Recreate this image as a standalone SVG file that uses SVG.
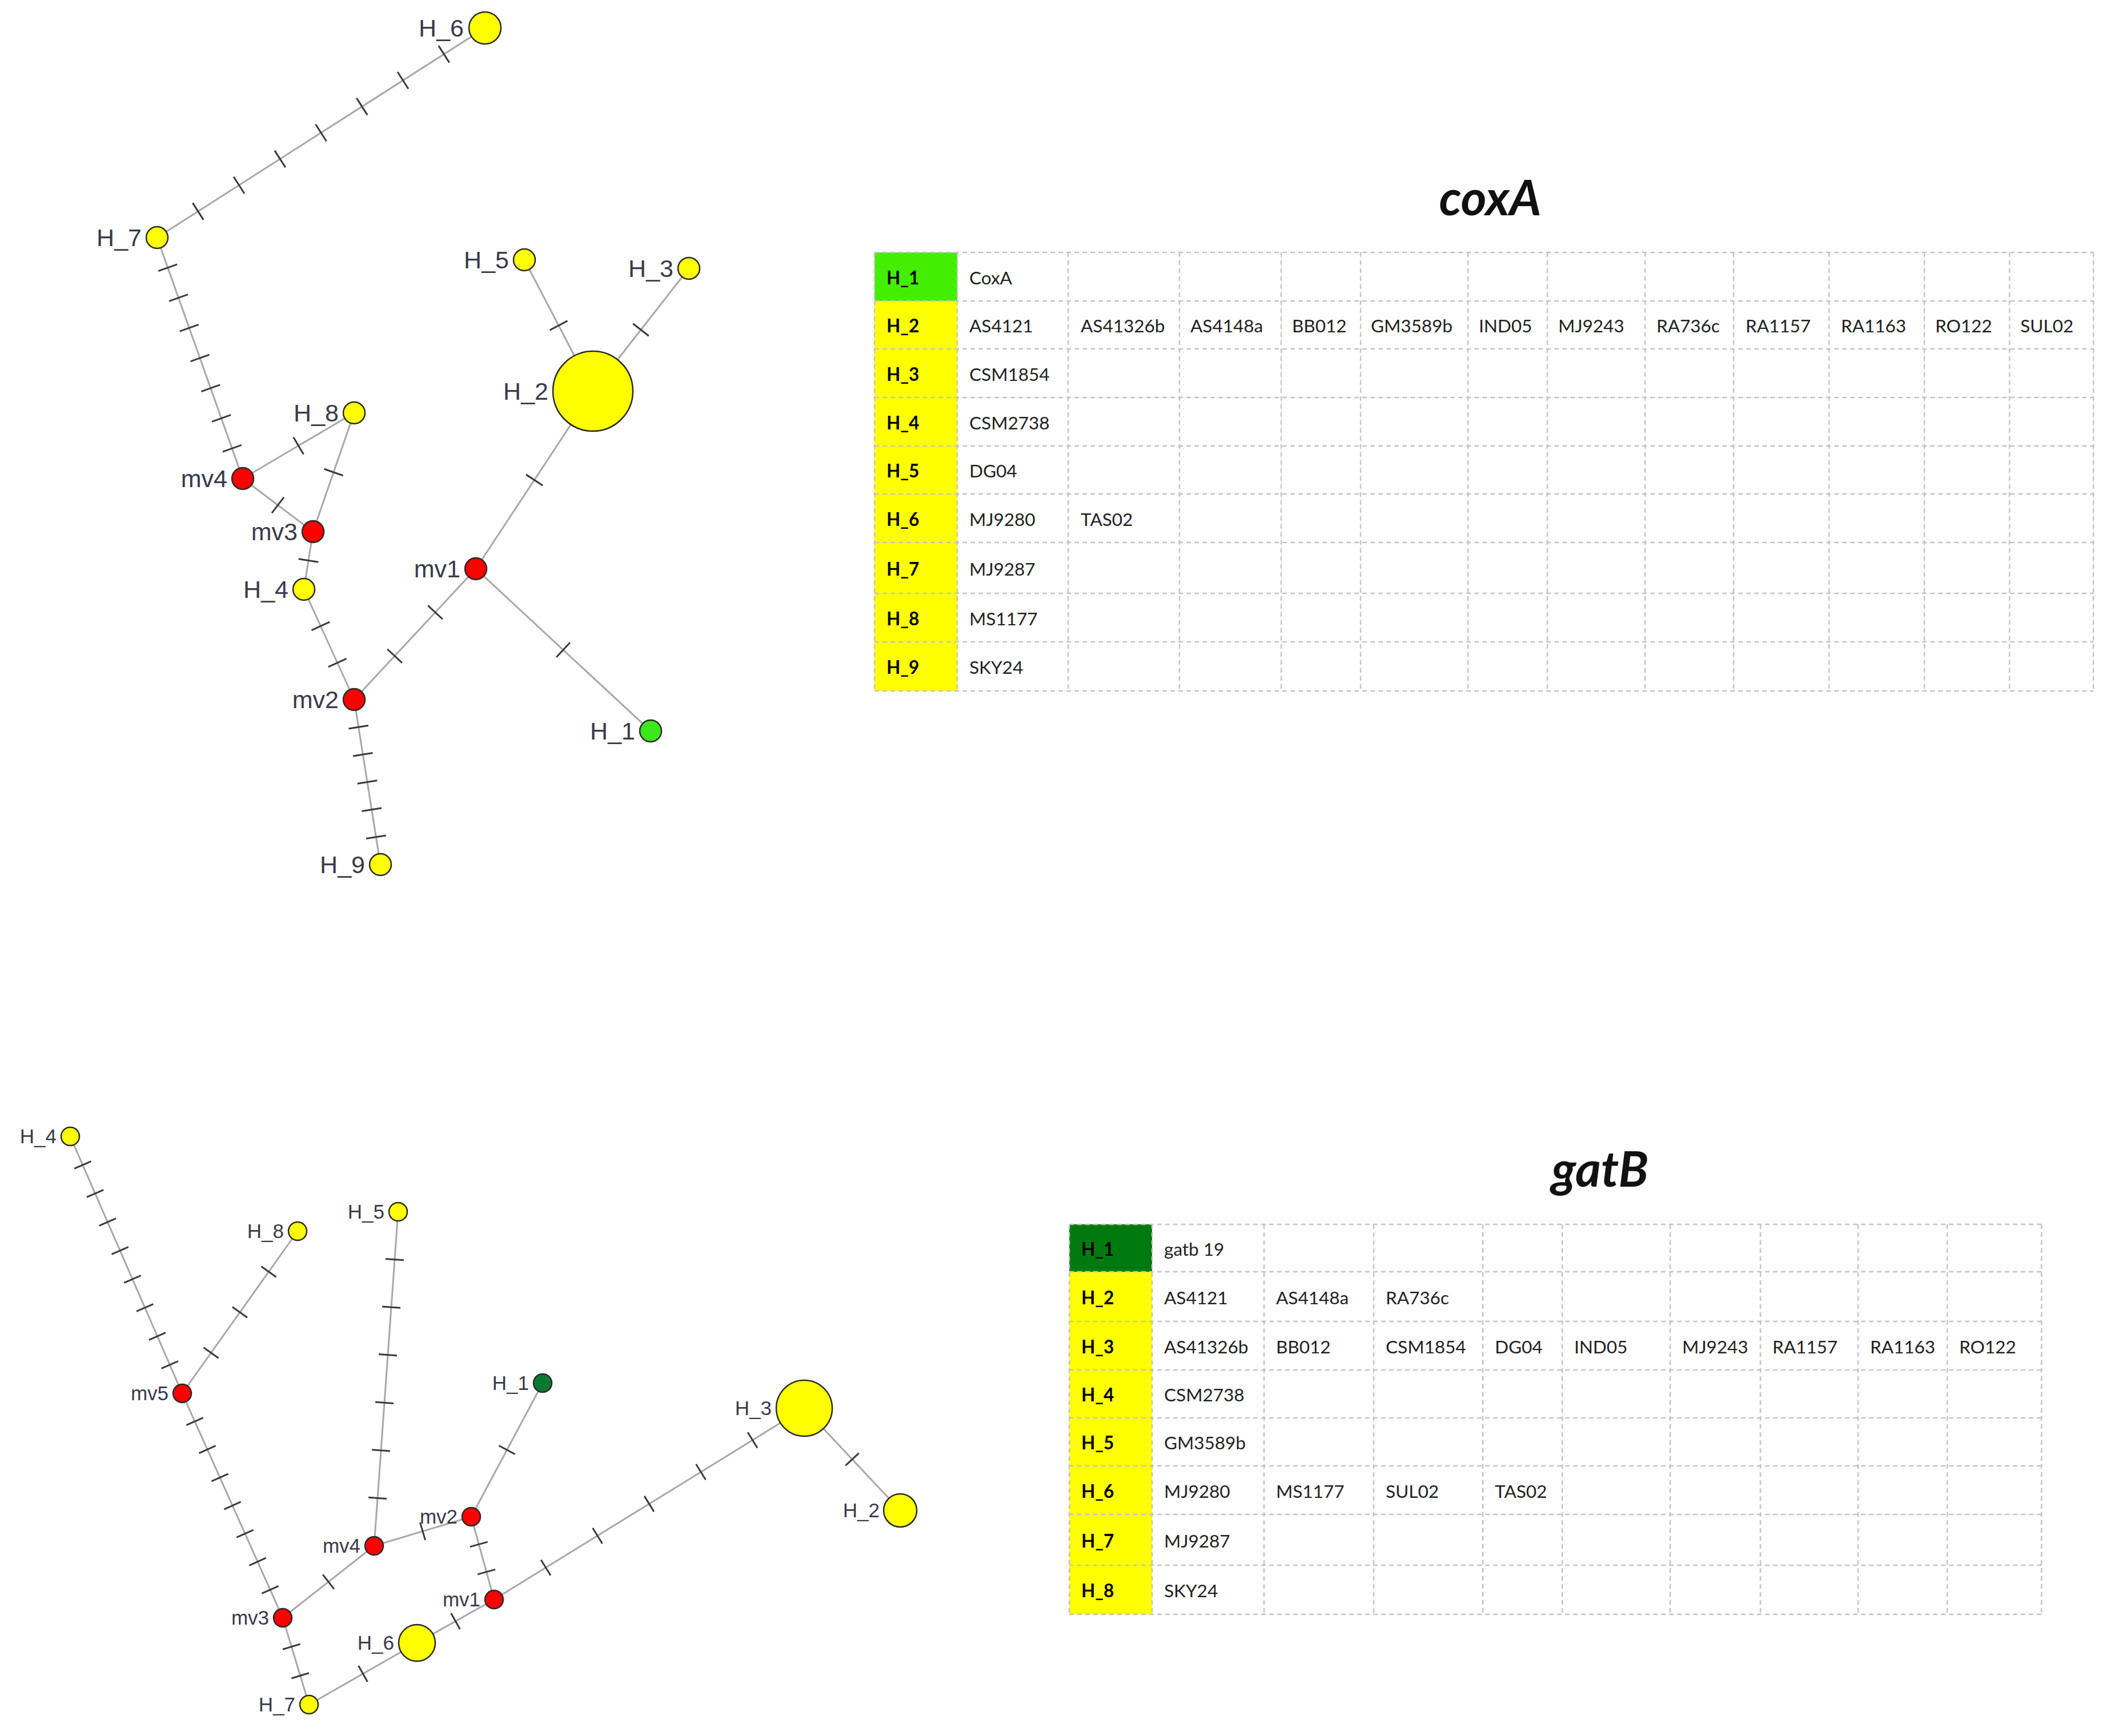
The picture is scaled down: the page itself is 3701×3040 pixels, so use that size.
<svg xmlns="http://www.w3.org/2000/svg" width="3701" height="3040" viewBox="0 0 3701 3040">
<style>
.edge{stroke:#a8a8a8;stroke-width:3;fill:none}
.tk{stroke:#3a3a3a;fill:none}
.tk1{stroke-width:35}
.tk2{stroke-width:32}
.nd{stroke:#2a2a2a;stroke-width:2.5}
.y{fill:#ffff00}.r{fill:#ff0000}.g{fill:#3be81c}.dg{fill:#0b7a30}
.lbl{font-family:"Liberation Sans",Arial,sans-serif;fill:#3a3a4a;text-anchor:end}
.la{font-size:43px}.lb{font-size:35px}
.ttl{font-family:Lato,"Open Sans",sans-serif;font-weight:bold;font-style:italic;font-size:86px;fill:#111;text-anchor:middle}
.ct{font-family:Lato,"Open Sans",sans-serif;font-size:31.5px;fill:#222}
.ch{font-family:Lato,"Open Sans",sans-serif;font-size:31.5px;font-weight:bold;fill:#000}
.grid{stroke:#c4c4c4;stroke-width:2.5;stroke-dasharray:8 6;fill:none}
</style>
<rect width="3701" height="3040" fill="#ffffff"/>

<!-- coxA network connectors -->
<g id="connectors-coxA">
<path class="edge" d="M849 49 L275 416"/>
<path class="edge" d="M275 416 L425 838"/>
<path class="edge" d="M425 838 L620 723"/>
<path class="edge" d="M425 838 L548 931"/>
<path class="edge" d="M620 723 L548 931"/>
<path class="edge" d="M548 931 L532 1032"/>
<path class="edge" d="M532 1032 L620 1225"/>
<path class="edge" d="M620 1225 L833 996"/>
<path class="edge" d="M833 996 L1038 685"/>
<path class="edge" d="M833 996 L1139 1280"/>
<path class="edge" d="M620 1225 L666 1514"/>
<path class="edge" d="M1038 685 L918 455"/>
<path class="edge" d="M1038 685 L1206 470"/>
<path class="tk tk1" d="M849 49 L275 416" pathLength="800" stroke-dasharray="3.52 96.48" stroke-dashoffset="1.76"/>
<path class="tk tk1" d="M275 416 L425 838" pathLength="800" stroke-dasharray="5.36 94.64" stroke-dashoffset="2.68"/>
<path class="tk tk1" d="M425 838 L620 723" pathLength="200" stroke-dasharray="2.65 97.35" stroke-dashoffset="1.33"/>
<path class="tk tk1" d="M425 838 L548 931" pathLength="200" stroke-dasharray="3.9 96.1" stroke-dashoffset="1.95"/>
<path class="tk tk1" d="M620 723 L548 931" pathLength="200" stroke-dasharray="2.73 97.27" stroke-dashoffset="1.37"/>
<path class="tk tk1" d="M548 931 L532 1032" pathLength="200" stroke-dasharray="5.88 94.12" stroke-dashoffset="2.94"/>
<path class="tk tk1" d="M532 1032 L620 1225" pathLength="300" stroke-dasharray="4.25 95.75" stroke-dashoffset="2.13"/>
<path class="tk tk1" d="M620 1225 L833 996" pathLength="300" stroke-dasharray="2.88 97.12" stroke-dashoffset="1.44"/>
<path class="tk tk1" d="M833 996 L1038 685" pathLength="200" stroke-dasharray="1.61 98.39" stroke-dashoffset="0.81"/>
<path class="tk tk1" d="M833 996 L1139 1280" pathLength="200" stroke-dasharray="1.44 98.56" stroke-dashoffset="0.72"/>
<path class="tk tk1" d="M620 1225 L666 1514" pathLength="600" stroke-dasharray="6.14 93.86" stroke-dashoffset="3.07"/>
<path class="tk tk1" d="M1038 685 L918 455" pathLength="200" stroke-dasharray="2.32 97.68" stroke-dashoffset="1.16"/>
<path class="tk tk1" d="M1038 685 L1206 470" pathLength="200" stroke-dasharray="2.2 97.8" stroke-dashoffset="1.1"/>
</g>

<!-- coxA nodes -->
<g id="coxA-H_6"><circle class="nd y" cx="849" cy="49" r="28"/><text class="lbl la" x="812" y="64">H_6</text></g>
<g id="coxA-H_7"><circle class="nd y" cx="275" cy="416" r="19"/><text class="lbl la" x="248" y="431">H_7</text></g>
<g id="coxA-H_5"><circle class="nd y" cx="918" cy="455" r="19"/><text class="lbl la" x="891" y="470">H_5</text></g>
<g id="coxA-H_3"><circle class="nd y" cx="1206" cy="470" r="19"/><text class="lbl la" x="1179" y="485">H_3</text></g>
<g id="coxA-H_2"><circle class="nd y" cx="1038" cy="685" r="70"/><text class="lbl la" x="960" y="700">H_2</text></g>
<g id="coxA-H_8"><circle class="nd y" cx="620" cy="723" r="19"/><text class="lbl la" x="593" y="738">H_8</text></g>
<g id="coxA-mv4"><circle class="nd r" cx="425" cy="838" r="19"/><text class="lbl la" x="398" y="853">mv4</text></g>
<g id="coxA-mv3"><circle class="nd r" cx="548" cy="931" r="19"/><text class="lbl la" x="521" y="946">mv3</text></g>
<g id="coxA-H_4"><circle class="nd y" cx="532" cy="1032" r="19"/><text class="lbl la" x="505" y="1047">H_4</text></g>
<g id="coxA-mv1"><circle class="nd r" cx="833" cy="996" r="19"/><text class="lbl la" x="806" y="1011">mv1</text></g>
<g id="coxA-mv2"><circle class="nd r" cx="620" cy="1225" r="19"/><text class="lbl la" x="593" y="1240">mv2</text></g>
<g id="coxA-H_1"><circle class="nd g" cx="1139" cy="1280" r="19"/><text class="lbl la" x="1112" y="1295">H_1</text></g>
<g id="coxA-H_9"><circle class="nd y" cx="666" cy="1514" r="19"/><text class="lbl la" x="639" y="1529">H_9</text></g>

<!-- gatB network connectors -->
<g id="connectors-gatB">
<path class="edge" d="M123 1990 L319 2440"/>
<path class="edge" d="M319 2440 L521 2156"/>
<path class="edge" d="M319 2440 L495 2833"/>
<path class="edge" d="M495 2833 L541 2985"/>
<path class="edge" d="M495 2833 L655 2707"/>
<path class="edge" d="M655 2707 L697 2122"/>
<path class="edge" d="M655 2707 L825 2656"/>
<path class="edge" d="M825 2656 L950 2422"/>
<path class="edge" d="M825 2656 L865 2801"/>
<path class="edge" d="M865 2801 L730 2877"/>
<path class="edge" d="M730 2877 L541 2985"/>
<path class="edge" d="M865 2801 L1408 2466"/>
<path class="edge" d="M1408 2466 L1576 2645"/>
<path class="tk tk2" d="M123 1990 L319 2440" pathLength="900" stroke-dasharray="5.5 94.5" stroke-dashoffset="2.75"/>
<path class="tk tk2" d="M319 2440 L521 2156" pathLength="400" stroke-dasharray="3.44 96.56" stroke-dashoffset="1.72"/>
<path class="tk tk2" d="M319 2440 L495 2833" pathLength="800" stroke-dasharray="5.57 94.43" stroke-dashoffset="2.79"/>
<path class="tk tk2" d="M495 2833 L541 2985" pathLength="300" stroke-dasharray="5.66 94.34" stroke-dashoffset="2.83"/>
<path class="tk tk2" d="M495 2833 L655 2707" pathLength="200" stroke-dasharray="2.94 97.06" stroke-dashoffset="1.47"/>
<path class="tk tk2" d="M655 2707 L697 2122" pathLength="700" stroke-dasharray="3.58 96.42" stroke-dashoffset="1.79"/>
<path class="tk tk2" d="M655 2707 L825 2656" pathLength="200" stroke-dasharray="3.39 96.61" stroke-dashoffset="1.7"/>
<path class="tk tk2" d="M825 2656 L950 2422" pathLength="200" stroke-dasharray="2.26 97.74" stroke-dashoffset="1.13"/>
<path class="tk tk2" d="M825 2656 L865 2801" pathLength="300" stroke-dasharray="6 94" stroke-dashoffset="3"/>
<path class="tk tk2" d="M865 2801 L730 2877" pathLength="200" stroke-dasharray="3.87 96.13" stroke-dashoffset="1.94"/>
<path class="tk tk2" d="M730 2877 L541 2985" pathLength="200" stroke-dasharray="2.75 97.25" stroke-dashoffset="1.38"/>
<path class="tk tk2" d="M865 2801 L1408 2466" pathLength="600" stroke-dasharray="2.82 97.18" stroke-dashoffset="1.41"/>
<path class="tk tk2" d="M1408 2466 L1576 2645" pathLength="200" stroke-dasharray="2.45 97.55" stroke-dashoffset="1.23"/>
</g>

<!-- gatB nodes -->
<g id="gatB-H_4"><circle class="nd y" cx="123" cy="1990" r="16"/><text class="lbl lb" x="99" y="2002">H_4</text></g>
<g id="gatB-H_8"><circle class="nd y" cx="521" cy="2156" r="16"/><text class="lbl lb" x="497" y="2168">H_8</text></g>
<g id="gatB-H_5"><circle class="nd y" cx="697" cy="2122" r="16"/><text class="lbl lb" x="673" y="2134">H_5</text></g>
<g id="gatB-mv5"><circle class="nd r" cx="319" cy="2440" r="16"/><text class="lbl lb" x="295" y="2452">mv5</text></g>
<g id="gatB-H_1"><circle class="nd dg" cx="950" cy="2422" r="16"/><text class="lbl lb" x="926" y="2434">H_1</text></g>
<g id="gatB-mv2"><circle class="nd r" cx="825" cy="2656" r="16"/><text class="lbl lb" x="801" y="2668">mv2</text></g>
<g id="gatB-mv4"><circle class="nd r" cx="655" cy="2707" r="16"/><text class="lbl lb" x="631" y="2719">mv4</text></g>
<g id="gatB-mv1"><circle class="nd r" cx="865" cy="2801" r="16"/><text class="lbl lb" x="841" y="2813">mv1</text></g>
<g id="gatB-mv3"><circle class="nd r" cx="495" cy="2833" r="16"/><text class="lbl lb" x="471" y="2845">mv3</text></g>
<g id="gatB-H_6"><circle class="nd y" cx="730" cy="2877" r="32"/><text class="lbl lb" x="690" y="2889">H_6</text></g>
<g id="gatB-H_7"><circle class="nd y" cx="541" cy="2985" r="16"/><text class="lbl lb" x="517" y="2997">H_7</text></g>
<g id="gatB-H_3"><circle class="nd y" cx="1408" cy="2466" r="49"/><text class="lbl lb" x="1351" y="2478">H_3</text></g>
<g id="gatB-H_2"><circle class="nd y" cx="1576" cy="2645" r="29"/><text class="lbl lb" x="1540" y="2657">H_2</text></g>

<!-- coxA table -->
<g id="coxA-table">
<text class="ttl" x="2609" y="377">coxA</text>
<rect x="1531" y="442" width="145" height="85" fill="#44ee00"/>
<rect x="1531" y="527" width="145" height="683" fill="#ffff00"/>
<g class="grid">
<path d="M1531 442H3665M1531 527H3665M1531 611H3665M1531 696H3665M1531 781H3665M1531 865H3665M1531 950H3665M1531 1039H3665M1531 1124H3665M1531 1210H3665"/>
<path d="M1531 442V1210M1676 442V1210M1870 442V1210M2065 442V1210M2243 442V1210M2382 442V1210M2570 442V1210M2709 442V1210M2880 442V1210M3035 442V1210M3202 442V1210M3369 442V1210M3518 442V1210M3665 442V1210"/>
</g>
<text class="ch" x="1552" y="498">H_1</text>
<text class="ch" x="1552" y="582">H_2</text>
<text class="ch" x="1552" y="667">H_3</text>
<text class="ch" x="1552" y="752">H_4</text>
<text class="ch" x="1552" y="836">H_5</text>
<text class="ch" x="1552" y="921">H_6</text>
<text class="ch" x="1552" y="1008">H_7</text>
<text class="ch" x="1552" y="1095">H_8</text>
<text class="ch" x="1552" y="1180">H_9</text>
<text class="ct" x="1697" y="498">CoxA</text>
<text class="ct" x="1697" y="582">AS4121</text>
<text class="ct" x="1892" y="582">AS41326b</text>
<text class="ct" x="2084" y="582">AS4148a</text>
<text class="ct" x="2262" y="582">BB012</text>
<text class="ct" x="2400" y="582">GM3589b</text>
<text class="ct" x="2589" y="582">IND05</text>
<text class="ct" x="2728" y="582">MJ9243</text>
<text class="ct" x="2900" y="582">RA736c</text>
<text class="ct" x="3056" y="582">RA1157</text>
<text class="ct" x="3223" y="582">RA1163</text>
<text class="ct" x="3388" y="582">RO122</text>
<text class="ct" x="3537" y="582">SUL02</text>
<text class="ct" x="1697" y="667">CSM1854</text>
<text class="ct" x="1697" y="752">CSM2738</text>
<text class="ct" x="1697" y="836">DG04</text>
<text class="ct" x="1697" y="921">MJ9280</text>
<text class="ct" x="1892" y="921">TAS02</text>
<text class="ct" x="1697" y="1008">MJ9287</text>
<text class="ct" x="1697" y="1095">MS1177</text>
<text class="ct" x="1697" y="1180">SKY24</text>
</g>

<!-- gatB table -->
<g id="gatB-table">
<text class="ttl" x="2801" y="2078">gatB</text>
<rect x="1872" y="2144" width="145" height="83" fill="#007a0e"/>
<rect x="1872" y="2227" width="145" height="600" fill="#ffff00"/>
<g class="grid">
<path d="M1872 2144H3574M1872 2227H3574M1872 2314H3574M1872 2399H3574M1872 2483H3574M1872 2567H3574M1872 2652H3574M1872 2741H3574M1872 2827H3574"/>
<path d="M1872 2144V2827M2017 2144V2827M2213 2144V2827M2405 2144V2827M2596 2144V2827M2735 2144V2827M2924 2144V2827M3082 2144V2827M3253 2144V2827M3409 2144V2827M3574 2144V2827"/>
</g>
<text class="ch" x="1893" y="2199">H_1</text>
<text class="ch" x="1893" y="2284">H_2</text>
<text class="ch" x="1893" y="2370">H_3</text>
<text class="ch" x="1893" y="2454">H_4</text>
<text class="ch" x="1893" y="2538">H_5</text>
<text class="ch" x="1893" y="2623">H_6</text>
<text class="ch" x="1893" y="2710">H_7</text>
<text class="ch" x="1893" y="2797">H_8</text>
<text class="ct" x="2038" y="2199">gatb 19</text>
<text class="ct" x="2038" y="2284">AS4121</text>
<text class="ct" x="2234" y="2284">AS4148a</text>
<text class="ct" x="2426" y="2284">RA736c</text>
<text class="ct" x="2038" y="2370">AS41326b</text>
<text class="ct" x="2234" y="2370">BB012</text>
<text class="ct" x="2426" y="2370">CSM1854</text>
<text class="ct" x="2617" y="2370">DG04</text>
<text class="ct" x="2756" y="2370">IND05</text>
<text class="ct" x="2945" y="2370">MJ9243</text>
<text class="ct" x="3103" y="2370">RA1157</text>
<text class="ct" x="3274" y="2370">RA1163</text>
<text class="ct" x="3430" y="2370">RO122</text>
<text class="ct" x="2038" y="2454">CSM2738</text>
<text class="ct" x="2038" y="2538">GM3589b</text>
<text class="ct" x="2038" y="2623">MJ9280</text>
<text class="ct" x="2234" y="2623">MS1177</text>
<text class="ct" x="2426" y="2623">SUL02</text>
<text class="ct" x="2617" y="2623">TAS02</text>
<text class="ct" x="2038" y="2710">MJ9287</text>
<text class="ct" x="2038" y="2797">SKY24</text>
</g>
</svg>
